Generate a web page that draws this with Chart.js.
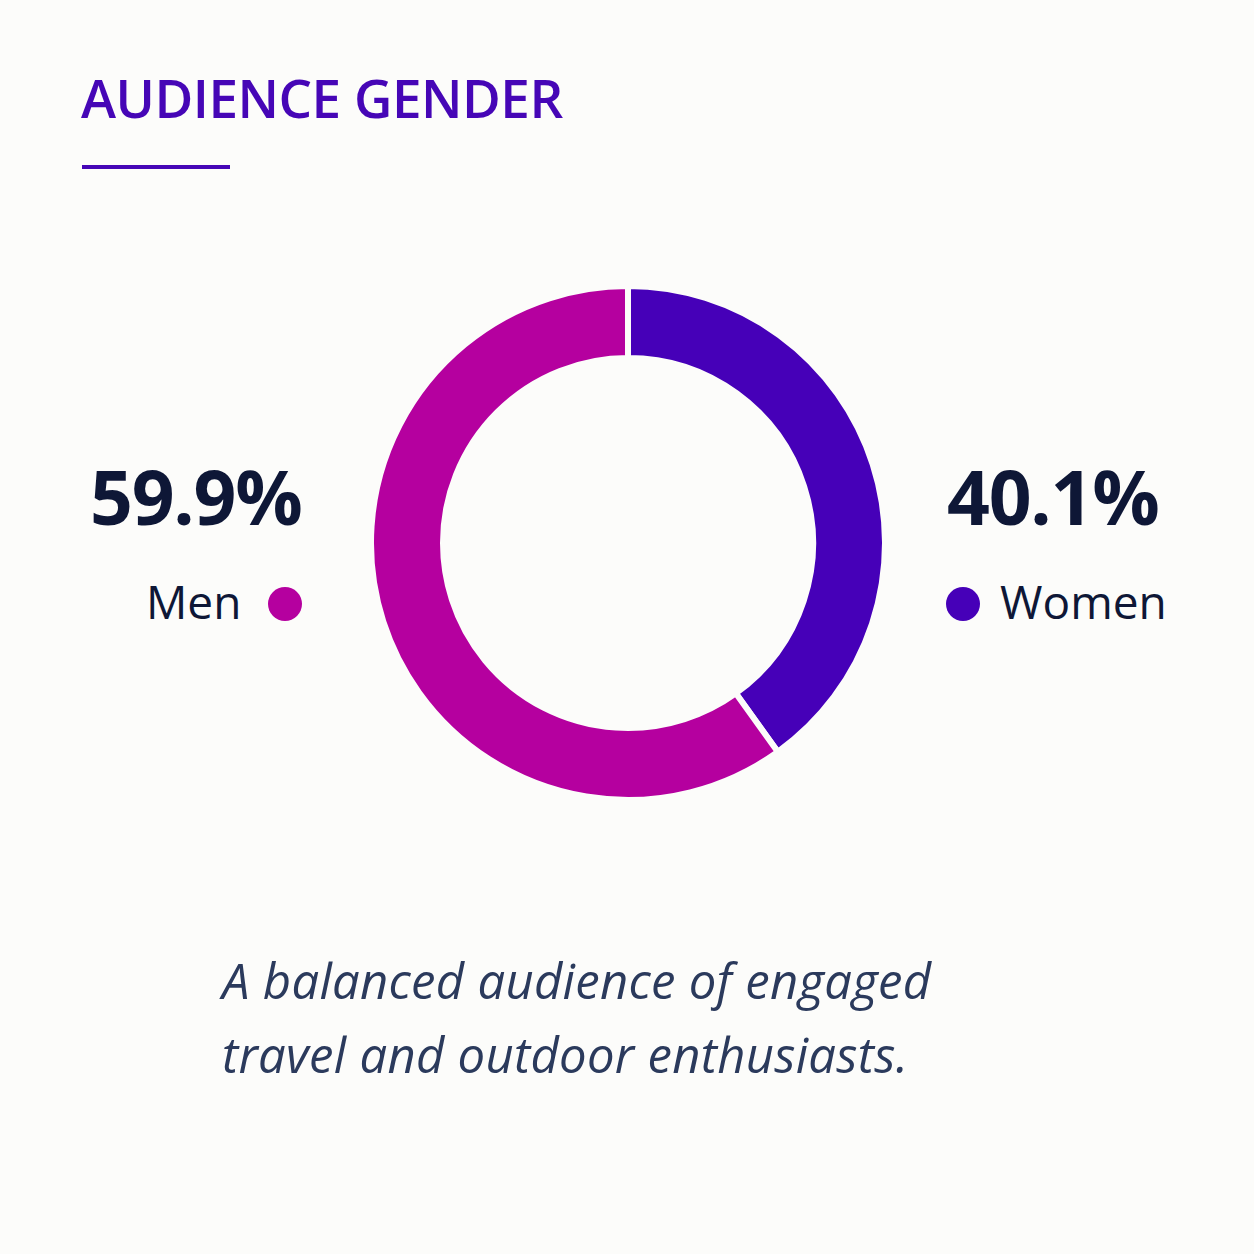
<!DOCTYPE html>
<html>
<head>
<meta charset="utf-8">
<script src="https://cdn.jsdelivr.net/npm/chart.js@4.4.1/dist/chart.umd.min.js"></script>
<style>
  html, body { margin: 0; padding: 0; }
  body {
    width: 1254px;
    height: 1254px;
    background: #fcfcfa;
    position: relative;
    overflow: hidden;
    font-family: "Open Sans", "Noto Sans", sans-serif;
  }
  .abs { position: absolute; white-space: nowrap; line-height: 1; }
  #title { left: 81px; top: 71px; font-size: 53px; font-weight: 600; color: #4606b6; letter-spacing: -0.5px; }
  #rule { left: 82px; top: 165px; width: 148px; height: 4px; background: #4606b6; }
  .pct { font-size: 75px; font-weight: 700; color: #0e1736; top: 459px; letter-spacing: -1.2px; }
  #pctLeft { left: 90px; }
  #pctRight { left: 947px; }
  .lab { font-size: 46px; color: #0e1736; top: 578px; }
  .dot { width: 34px; height: 34px; border-radius: 50%; top: 587px; }
  #caption { left: 222px; top: 943px; font-size: 49px; font-style: italic; color: #2b3a5c; line-height: 74px; letter-spacing: 0.3px; }
  #chartBox { position: absolute; left: 368px; top: 283px; width: 520px; height: 520px; }
</style>
</head>
<body>
<div id="title" class="abs"></div>
<div id="rule" class="abs"></div>

<div id="pctLeft" class="abs pct"></div>
<div id="labLeft" class="abs lab" style="left:146px;"></div>
<div id="dotLeft" class="abs dot" style="left:268px;"></div>

<div id="pctRight" class="abs pct"></div>
<div id="dotRight" class="abs dot" style="left:946px;"></div>
<div id="labRight" class="abs lab" style="left:1000px;"></div>

<div id="caption" class="abs"></div>

<div id="chartBox"><canvas id="genderChart"></canvas></div>

<script>
// Data
const titleText = "AUDIENCE GENDER";
const categories = ["Women", "Men"];
const shares = [40.1, 59.9];
const sliceColors = ["#4600b8", "#b5009f"];
const captionLines = ["A balanced audience of engaged", "travel and outdoor enthusiasts."];

// Text
document.querySelector("#title").textContent = titleText;
document.querySelector("#caption").innerHTML = captionLines.join("<br>");

const menIdx = categories.indexOf("Men");
const womenIdx = categories.indexOf("Women");

document.querySelector("#pctLeft").textContent = `${shares[menIdx].toFixed(1)}%`;
document.querySelector("#labLeft").textContent = categories[menIdx];
document.querySelector("#dotLeft").style.background = sliceColors[menIdx];

document.querySelector("#pctRight").textContent = `${shares[womenIdx].toFixed(1)}%`;
document.querySelector("#labRight").textContent = categories[womenIdx];
document.querySelector("#dotRight").style.background = sliceColors[womenIdx];

// Chart
const canvas = document.querySelector("#genderChart");
new Chart(canvas, {
  type: "doughnut",
  data: {
    labels: categories,
    datasets: [
      {
        data: shares,
        backgroundColor: sliceColors,
        borderColor: "#fcfcfa",
        borderWidth: 6,
        hoverOffset: 0
      }
    ]
  },
  options: {
    responsive: true,
    maintainAspectRatio: false,
    animation: false,
    radius: 257,
    cutout: 185,
    plugins: {
      legend: { display: false },
      tooltip: { enabled: false }
    }
  }
});
</script>
</body>
</html>
